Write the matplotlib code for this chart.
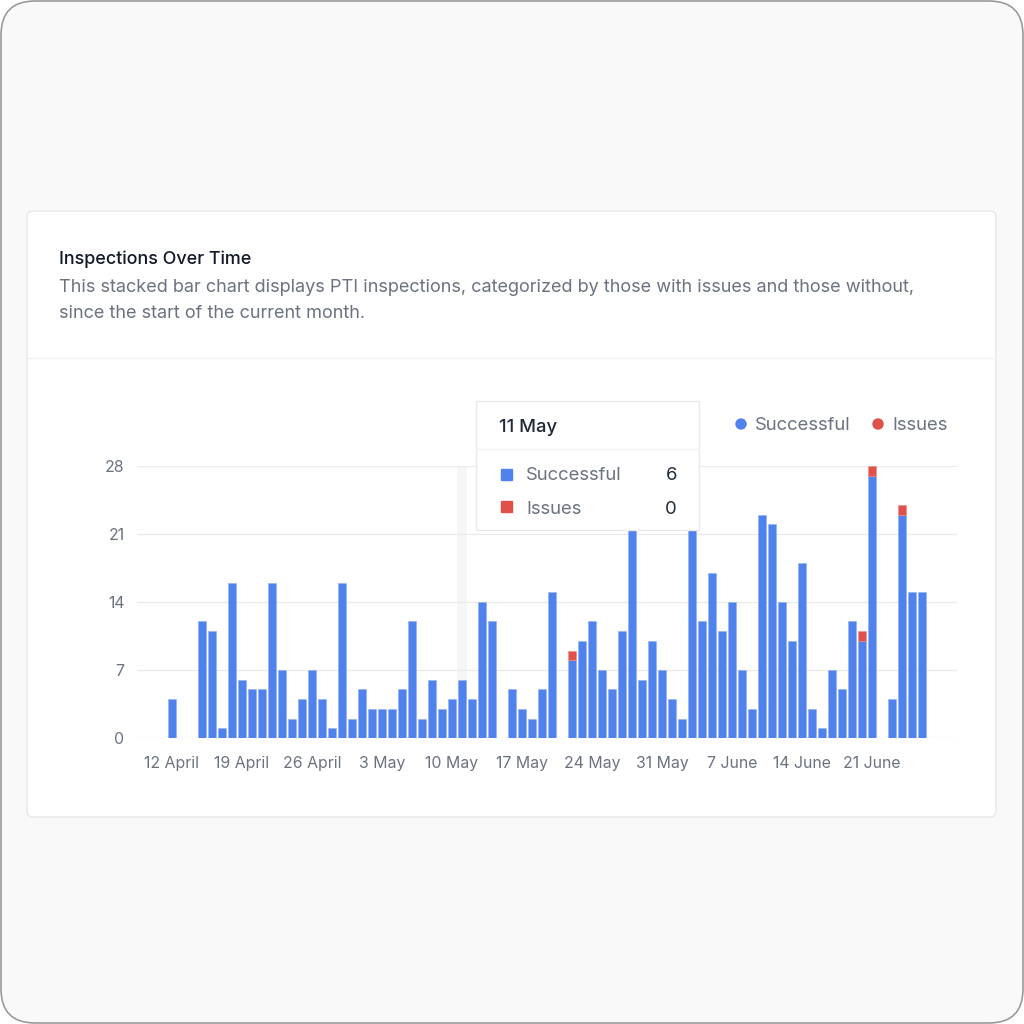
import matplotlib.pyplot as plt
import numpy as np
import pandas as pd
from matplotlib.patches import FancyBboxPatch, Rectangle, Circle

plt.rcParams['font.family'] = ['Inter', 'DejaVu Sans']

# data: one value per day, 9 April to 29 June
days = pd.date_range('2024-04-09', '2024-06-29', freq='D')
successful = [
    0, 0, 0, 4, 0, 0, 12, 11, 1, 16, 6, 5, 5, 16, 7, 2, 4, 7, 4, 1, 16, 2,
    5, 3, 3, 3, 5, 12, 2, 6, 3, 4, 6, 4, 14, 12, 0, 5, 3, 2, 5, 15, 0, 8,
    10, 12, 7, 5, 11, 24, 6, 10, 7,
    4, 2, 22, 12, 17, 11, 14, 7, 3, 23, 22, 14, 10, 18, 3, 1, 7, 5, 12, 10,
    27, 0, 4, 23, 15, 15, 0, 0, 0,
]
issues = [0] * len(successful)
issue_days = {'2024-05-22': 1, '2024-06-20': 1, '2024-06-21': 1, '2024-06-24': 1}
for d, v in issue_days.items():
    issues[list(days).index(pd.Timestamp(d))] = v

tick_dates = ['2024-04-12', '2024-04-19', '2024-04-26', '2024-05-03', '2024-05-10',
              '2024-05-17', '2024-05-24', '2024-05-31', '2024-06-07', '2024-06-14',
              '2024-06-21']
tick_labels = ['12 April', '19 April', '26 April', '3 May', '10 May', '17 May',
               '24 May', '31 May', '7 June', '14 June', '21 June']
y_ticks = [0, 7, 14, 21, 28]
hover_day = '2024-05-11'

BLUE = '#5082ed'
RED = '#e05149'
GREY = '#6b7280'
DARK = '#111827'

W = H = 1024
fig = plt.figure(figsize=(10.24, 10.24), dpi=100)
fig.patch.set_facecolor('white')

# background layer in pixel coords
bg = fig.add_axes([0, 0, 1, 1], zorder=0)
bg.set_xlim(0, W)
bg.set_ylim(H, 0)
bg.axis('off')
bg.add_patch(FancyBboxPatch((1, 1), W - 2, H - 2, boxstyle='round,pad=0,rounding_size=34',
                            facecolor='#f9f9f9', edgecolor='#9a9a9a', linewidth=1.2))
bg.add_patch(FancyBboxPatch((27, 211), 969, 606, boxstyle='round,pad=0,rounding_size=6',
                            facecolor='white', edgecolor='#e5e7eb', linewidth=1))
bg.plot([28, 995], [358, 358], color='#eef0f2', linewidth=1)
bg.text(59, 259, 'Inspections Over Time', fontsize=12.9, color=DARK, weight='medium',
        va='center', ha='left')
bg.text(59, 287, 'This stacked bar chart displays PTI inspections, categorized by those '
        'with issues and those without,', fontsize=13.05, color=GREY, va='center', ha='left')
bg.text(59, 314, 'since the start of the current month.', fontsize=13.05, color=GREY,
        va='center', ha='left')

# legend
bg.add_patch(Circle((741, 424), 5, color=BLUE))
bg.text(755, 426, 'Successful', fontsize=13.3, color=GREY, va='center', ha='left')
bg.add_patch(Circle((878, 424), 5, color=RED))
bg.text(892, 426, 'Issues', fontsize=13.3, color=GREY, va='center', ha='left')

# chart
ax = fig.add_axes([137 / W, 1 - 738 / H, 820 / W, 272 / H], zorder=1)
ax.patch.set_alpha(0)
x = np.arange(len(days))
hover_i = list(days).index(pd.Timestamp(hover_day))
ax.axvspan(hover_i - 0.5, hover_i + 0.5, color='#f6f6f7', zorder=0.5, linewidth=0)
ax.bar(x, successful, width=0.8, color=BLUE, edgecolor='#8fb0f4', linewidth=0.4, zorder=2)
has_issue = np.array(issues) > 0
ax.bar(x[has_issue], np.array(issues)[has_issue], width=0.8,
       bottom=np.array(successful)[has_issue], color=RED, edgecolor='#ec8c86',
       linewidth=0.4, zorder=2)
ax.set_xlim(-0.5, len(days) - 0.5)
ax.set_ylim(0, 28)
ax.set_yticks(y_ticks)
ax.set_yticklabels([str(v) for v in y_ticks])
ax.set_xticks([list(days).index(pd.Timestamp(d)) for d in tick_dates])
ax.set_xticklabels(tick_labels)
ax.tick_params(length=0, labelsize=11.4, labelcolor=GREY)
ax.tick_params(axis='y', pad=9)
ax.tick_params(axis='x', pad=13)
ax.yaxis.grid(True, color='#ebebeb', linewidth=1)
ax.set_axisbelow(True)
for s in ax.spines.values():
    s.set_visible(False)

# tooltip overlay
ov = fig.add_axes([0, 0, 1, 1], zorder=2)
ov.set_xlim(0, W)
ov.set_ylim(H, 0)
ov.axis('off')
ov.patch.set_alpha(0)
ov.add_patch(Rectangle((476, 401), 223, 129, facecolor='white', edgecolor='#e8eaed',
                       linewidth=1))
ov.plot([477, 698], [449, 449], color='#eef0f2', linewidth=1)
ov.text(499, 428, days[hover_i].strftime('%-d %B'), fontsize=13.3, color='#1f2937',
        va='center', ha='left', weight='medium')
ov.add_patch(Rectangle((501, 469), 11, 11, color=BLUE))
ov.text(526, 476, 'Successful', fontsize=13.3, color=GREY, va='center', ha='left')
ov.text(677, 476, str(successful[hover_i]), fontsize=13.3, color='#1f2937', va='center',
        ha='right')
ov.add_patch(Rectangle((501, 501), 11, 11, color=RED))
ov.text(526, 509, 'Issues', fontsize=13.3, color=GREY, va='center', ha='left')
ov.text(677, 509, str(issues[hover_i]), fontsize=13.3, color='#1f2937', va='center',
        ha='right')

fig.savefig('out.png', dpi=100)
